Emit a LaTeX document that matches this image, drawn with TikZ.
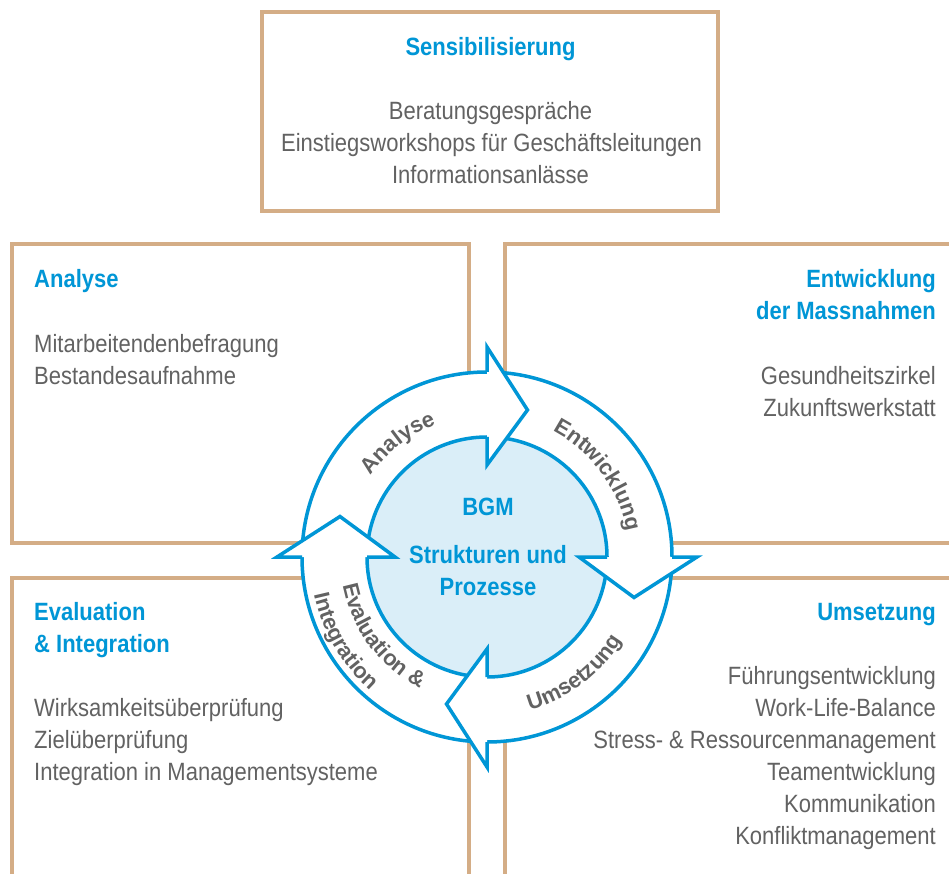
\documentclass[tikz,border=0pt]{standalone}
\usepackage{fontspec}
\setmainfont{Liberation Sans}[FakeStretch=0.88]
\newfontfamily\ringfont{Liberation Sans}
\usetikzlibrary{calc}
\definecolor{boxtan}{RGB}{212,173,134}
\definecolor{bgmblue}{RGB}{0,150,214}
\definecolor{txtgray}{RGB}{98,98,98}
\definecolor{bgmlight}{RGB}{218,238,248}
\newcommand\ringfnt{\ringfont\bfseries\fontsize{22}{22}\selectfont}
\tikzset{
  panel/.style={draw=boxtan, line width=4pt},
  headtxt/.style={font=\fontsize{25}{32}\selectfont\bfseries, text=bgmblue, inner sep=0pt},
  itemtxt/.style={font=\fontsize{25}{32}\selectfont, text=txtgray, inner sep=0pt},
  ringline/.style={draw=bgmblue, line width=3.5pt, line join=miter},
  ringchar/.style={font=\ringfnt, text=txtgray, anchor=base, inner sep=0pt}
}
% #1 name, #2 centre angle, #3 baseline radius, #4 direction (-1 clockwise, 1 anticlockwise),
% #5 char/width list (Arial Bold widths per 1000 em), #6 total width
\newcommand\ringtext[6]{%
  \gdef\rtacc{0}%
  \foreach \ch/\w [count=\k] in {#5}{%
    \pgfmathsetmacro\rtang{#2+(#4)*((\rtacc+0.5*\w-0.5*#6)*0.022)/#3*57.29578}%
    \pgfmathsetmacro\rtrot{\rtang+(#4)*90}%
    \node[ringchar, rotate=\rtrot] (#1\k) at ($(C)+(\rtang:#3)$) {\ch};%
    \pgfmathsetmacro\rtnew{\rtacc+\w}%
    \xdef\rtacc{\rtnew}%
  }%
}
\begin{document}
\begin{tikzpicture}[x=1pt,y=1pt]
\useasboundingbox (0,0) rectangle (949,873);
\clip (0,0) rectangle (949,873);
\fill[white] (0,0) rectangle (949,873);

% panels
\draw[panel] (261.7,861.3) rectangle (717.5,662.3);
\draw[panel] (12,628.5) rectangle (468.5,329.5);
\draw[panel] (505,628.5) rectangle (970,329.5);
\draw[panel] (12,295) rectangle (468.5,-20);
\draw[panel] (505,295) rectangle (970,-20);

% top panel text
\node[headtxt, anchor=base] (sens) at (490.5,817) {Sensibilisierung};
\node[itemtxt, anchor=base] (sens1) at (490.5,753) {Beratungsgespräche};
\node[itemtxt, anchor=base] (sens2) at (491.5,721) {Einstiegsworkshops für Geschäftsleitungen};
\node[itemtxt, anchor=base] (sens3) at (490.5,689) {Informationsanlässe};

% Analyse panel
\node[headtxt, anchor=base west] (ana) at (34,585) {Analyse};
\node[itemtxt, anchor=base west] (ana1) at (34,520) {Mitarbeitendenbefragung};
\node[itemtxt, anchor=base west] (ana2) at (34,488) {Bestandesaufnahme};

% Entwicklung panel
\node[headtxt, anchor=base east] (ent) at (936,585) {Entwicklung};
\node[headtxt, anchor=base east] (entb) at (936,553) {der Massnahmen};
\node[itemtxt, anchor=base east] (ent1) at (936,488) {Gesundheitszirkel};
\node[itemtxt, anchor=base east] (ent2) at (936,456) {Zukunftswerkstatt};

% Evaluation panel
\node[headtxt, anchor=base west] (eva) at (34,253) {Evaluation};
\node[headtxt, anchor=base west] (evab) at (34,221) {\& Integration};
\node[itemtxt, anchor=base west] (eva1) at (34,157) {Wirksamkeitsüberprüfung};
\node[itemtxt, anchor=base west] (eva2) at (34,125) {Zielüberprüfung};
\node[itemtxt, anchor=base west] (eva3) at (34,93) {Integration in Managementsysteme};

% Umsetzung panel
\node[headtxt, anchor=base east] (ums) at (936,253) {Umsetzung};
\node[itemtxt, anchor=base east] (ums1) at (936,189) {Führungsentwicklung};
\node[itemtxt, anchor=base east] (ums2) at (936,157) {Work-Life-Balance};
\node[itemtxt, anchor=base east] (ums3) at (936,125) {Stress- \& Ressourcenmanagement};
\node[itemtxt, anchor=base east] (ums4) at (936,93) {Teamentwicklung};
\node[itemtxt, anchor=base east] (ums5) at (936,61) {Kommunikation};
\node[itemtxt, anchor=base east] (ums6) at (936,29) {Konfliktmanagement};

% cycle
\coordinate (C) at (487,316);
\node[circle, fill=white, ringline, minimum size=370pt, inner sep=0pt] (outer) at (C) {};
\node[circle, fill=bgmlight, ringline, minimum size=240pt, inner sep=0pt] (inner) at (C) {};
\begin{scope}[shift={(C)}]
\foreach \b in {90,0,-90,180}{
  \fill[white] (\b:92) -- (\b:210) -- (\b-15.4:152.5) -- cycle;
  \draw[ringline] (\b:185) -- (\b:210) -- (\b-15.4:152.5) -- (\b:92) -- (\b:120);
}
\end{scope}

% ring labels
\ringtext{an}{128}{142}{-1}{A/722,n/611,a/556,l/278,y/556,s/556,e/556}{3835}
\ringtext{en}{36.4}{142}{-1}{E/667,n/611,t/333,w/778,i/278,c/556,k/556,l/278,u/611,n/611,g/611}{5890}
\ringtext{um}{-53}{159}{1}{U/722,m/889,s/556,e/556,t/333,z/500,u/611,n/611,g/611}{5389}
\ringtext{ev}{217}{147}{1}{E/667,v/556,a/556,l/278,u/611,a/556,t/333,i/278,o/611,n/611,\space/278,\&/722}{6057}
\ringtext{in}{210.6}{177}{1}{I/278,n/611,t/333,e/556,g/611,r/389,a/556,t/333,i/278,o/611,n/611}{5167}

% center text
\node[headtxt, anchor=base] (bgm) at (488,357) {BGM};
\node[headtxt, anchor=base] (sp1) at (488,310) {Strukturen und};
\node[headtxt, anchor=base] (sp2) at (488,278) {Prozesse};
\end{tikzpicture}
\end{document}
